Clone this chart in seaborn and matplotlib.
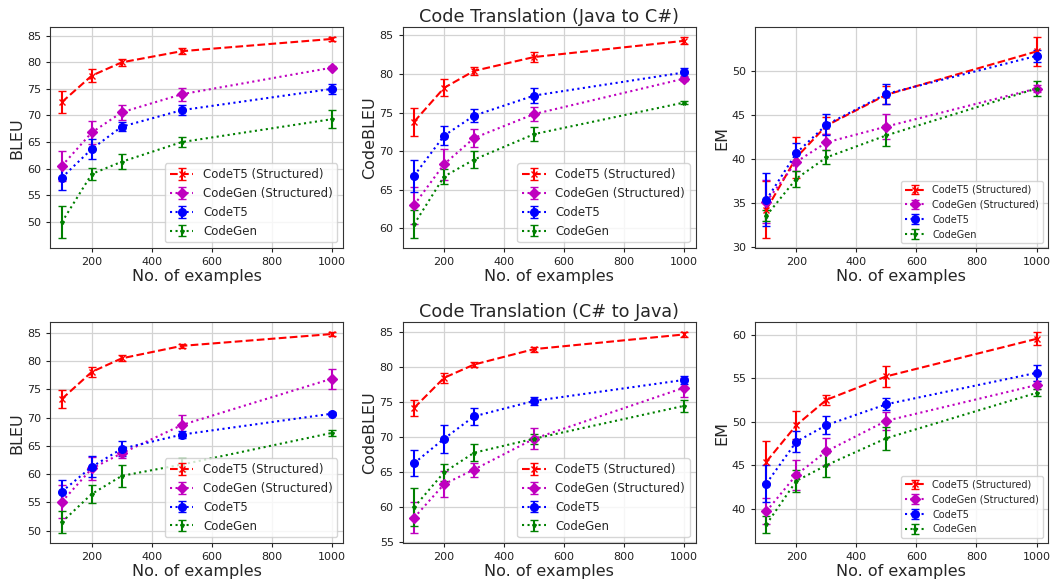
import numpy as np
import matplotlib
matplotlib.use('Agg')
import matplotlib.pyplot as plt
import seaborn as sns

sns.set_style("ticks")
plt.rcParams['font.family'] = ['DejaVu Sans']

# x positions (number of examples)
n_examples = [100, 200, 300, 500, 1000]
models = ['CodeT5 (Structured)', 'CodeGen (Structured)', 'CodeT5', 'CodeGen']

# ---- Java to C# ----
j2c_bleu_mean = {
    'CodeT5 (Structured)': [72.5, 77.5, 80.0, 82.1, 84.4],
    'CodeGen (Structured)': [60.5, 66.8, 70.6, 74.0, 79.0],
    'CodeT5': [58.3, 63.7, 67.9, 71.0, 75.0],
    'CodeGen': [49.9, 59.0, 61.3, 65.0, 69.3],
}
j2c_bleu_err = {
    'CodeT5 (Structured)': [2.1, 1.2, 0.6, 0.6, 0.3],
    'CodeGen (Structured)': [2.8, 2.1, 1.4, 1.2, 0.3],
    'CodeT5': [2.4, 1.8, 0.9, 1.0, 0.9],
    'CodeGen': [3.0, 1.2, 1.4, 1.0, 1.7],
}
j2c_codebleu_mean = {
    'CodeT5 (Structured)': [73.8, 78.2, 80.4, 82.2, 84.3],
    'CodeGen (Structured)': [63.0, 68.3, 71.7, 74.8, 79.4],
    'CodeT5': [66.8, 72.0, 74.6, 77.2, 80.2],
    'CodeGen': [60.5, 66.7, 68.9, 72.2, 76.3],
}
j2c_codebleu_err = {
    'CodeT5 (Structured)': [1.8, 1.1, 0.5, 0.7, 0.45],
    'CodeGen (Structured)': [2.4, 2.0, 1.2, 0.9, 0.3],
    'CodeT5': [2.1, 1.2, 0.8, 1.0, 0.6],
    'CodeGen': [1.8, 1.0, 1.1, 0.9, 0.2],
}
j2c_em_mean = {
    'CodeT5 (Structured)': [34.3, 40.2, 43.8, 47.3, 52.2],
    'CodeGen (Structured)': [35.2, 39.7, 41.9, 43.7, 48.0],
    'CodeT5': [35.4, 40.7, 43.9, 47.4, 51.7],
    'CodeGen': [33.6, 37.8, 40.2, 42.7, 48.0],
}
j2c_em_err = {
    'CodeT5 (Structured)': [3.25, 2.35, 1.0, 1.0, 1.6],
    'CodeGen (Structured)': [2.4, 1.0, 0.9, 1.4, 0.4],
    'CodeT5': [3.0, 1.1, 1.2, 1.1, 0.65],
    'CodeGen': [0.6, 0.9, 0.8, 1.15, 0.8],
}

# ---- C# to Java ----
c2j_bleu_mean = {
    'CodeT5 (Structured)': [73.3, 78.1, 80.5, 82.7, 84.8],
    'CodeGen (Structured)': [55.1, 61.0, 63.7, 68.7, 76.9],
    'CodeT5': [56.9, 61.3, 64.5, 67.0, 70.7],
    'CodeGen': [51.5, 56.5, 59.7, 61.7, 67.3],
}
c2j_bleu_err = {
    'CodeT5 (Structured)': [1.6, 0.85, 0.5, 0.35, 0.3],
    'CodeGen (Structured)': [2.9, 2.0, 0.9, 1.8, 1.75],
    'CodeT5': [2.0, 1.85, 1.3, 0.65, 0.3],
    'CodeGen': [1.95, 1.65, 2.0, 1.1, 0.6],
}
c2j_codebleu_mean = {
    'CodeT5 (Structured)': [74.2, 78.5, 80.4, 82.6, 84.7],
    'CodeGen (Structured)': [58.5, 63.3, 65.4, 69.8, 77.1],
    'CodeT5': [66.3, 69.8, 73.0, 75.2, 78.2],
    'CodeGen': [60.0, 65.0, 67.8, 69.8, 74.5],
}
c2j_codebleu_err = {
    'CodeT5 (Structured)': [1.2, 0.7, 0.4, 0.35, 0.3],
    'CodeGen (Structured)': [2.2, 1.85, 1.0, 1.5, 1.4],
    'CodeT5': [1.85, 2.0, 1.25, 0.6, 0.55],
    'CodeGen': [2.7, 1.2, 1.2, 0.7, 0.9],
}
c2j_em_mean = {
    'CodeT5 (Structured)': [45.4, 49.6, 52.5, 55.2, 59.5],
    'CodeGen (Structured)': [39.7, 43.9, 46.6, 50.1, 54.2],
    'CodeT5': [42.9, 47.7, 49.6, 52.0, 55.6],
    'CodeGen': [38.2, 43.2, 45.0, 48.1, 53.3],
}
c2j_em_err = {
    'CodeT5 (Structured)': [2.4, 1.6, 0.55, 1.2, 0.75],
    'CodeGen (Structured)': [1.5, 1.7, 1.55, 1.05, 0.5],
    'CodeT5': [2.1, 1.2, 1.0, 0.7, 0.9],
    'CodeGen': [1.0, 1.25, 1.4, 1.3, 0.4],
}

styles = {
    'CodeT5 (Structured)': dict(color='red', ls='--', marker='x', ms=4.5),
    'CodeGen (Structured)': dict(color='m', ls=':', marker='D', ms=5.5),
    'CodeT5': dict(color='blue', ls=':', marker='o', ms=5.5),
    'CodeGen': dict(color='green', ls=':', marker='*', ms=3),
}

panels = [
    (j2c_bleu_mean, j2c_bleu_err, 'BLEU', None),
    (j2c_codebleu_mean, j2c_codebleu_err, 'CodeBLEU', 'Code Translation (Java to C#)'),
    (j2c_em_mean, j2c_em_err, 'EM', None),
    (c2j_bleu_mean, c2j_bleu_err, 'BLEU', None),
    (c2j_codebleu_mean, c2j_codebleu_err, 'CodeBLEU', 'Code Translation (C# to Java)'),
    (c2j_em_mean, c2j_em_err, 'EM', None),
]

fig, axes = plt.subplots(2, 3, figsize=(10.51, 5.81), dpi=100)
fig.subplots_adjust(left=0.048, right=0.997, top=0.953, bottom=0.065,
                    wspace=0.203, hspace=0.335)

for ax, (means, errs, ylabel, title) in zip(axes.flat, panels):
    for m in models:
        st = styles[m]
        ax.errorbar(n_examples, means[m], yerr=errs[m], label=m,
                    color=st['color'], ls=st['ls'], marker=st['marker'],
                    ms=st['ms'], lw=1.5, elinewidth=1.5, capsize=3)
    ax.margins(x=0.042)
    ax.grid(True, color='#d3d3d3', lw=0.9)
    ax.set_axisbelow(True)
    ax.set_xticks([200, 400, 600, 800, 1000])
    ax.tick_params(labelsize=8, colors='#222222', length=3)
    for sp in ax.spines.values():
        sp.set_color('#333333')
    ax.set_xlabel('No. of examples', fontsize=11.5, labelpad=1)
    ax.set_ylabel(ylabel, fontsize=11.5, labelpad=2)
    if title:
        ax.set_title(title, fontsize=12.7, pad=4)
    ax.legend(loc='lower right', fontsize=7 if ylabel == 'EM' else 8.5)

plt.savefig('out.png', dpi=100)
plt.close()
